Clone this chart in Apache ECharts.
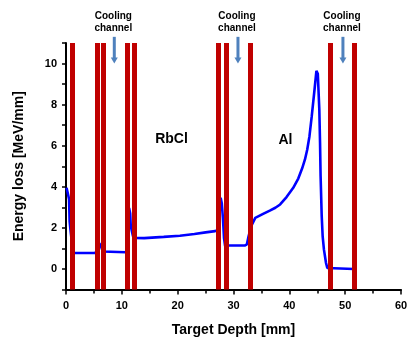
<!DOCTYPE html>
<html>
<head>
<meta charset="utf-8">
<script src="https://cdn.jsdelivr.net/npm/echarts@6/dist/echarts.min.js"></script>
<style>
html,body{margin:0;padding:0;background:#fff;}
#chart{width:407px;height:338px;}
</style>
</head>
<body>
<div id="chart"></div>
<script>
// Energy loss curve: [depth mm, MeV/mm]
const depth = [0.1,0.4,0.55,0.65,0.83,1.1,1.43,5.3,5.6,5.8,6.0,6.2,6.4,6.6,6.8,10.7,10.95,11.15,11.3,11.5,11.6,11.75,12.0,12.45,14,17.5,20.4,23,25,26.7,27.2,27.5,27.7,27.9,28.1,28.3,28.5,29.0,32.0,32.4,32.7,33.0,33.3,33.9,35.3,36.5,37.5,38.35,39.5,40.7,41.6,42.3,42.8,43.2,43.6,44.0,44.5,44.85,45.1,45.37,45.5,45.6,45.8,45.97,46.2,46.57,46.8,47.0,51.5];
const energy = [3.95,4.03,3.4,2.32,1.83,1.2,0.78,0.78,1.0,1.3,1.35,1.15,1.1,0.85,0.81,0.81,1.0,2.5,2.97,2.7,2.1,1.9,1.6,1.51,1.5,1.56,1.62,1.7,1.78,1.84,1.9,2.7,3.46,3.2,2.5,1.5,1.12,1.14,1.14,1.2,1.59,1.9,2.16,2.49,2.68,2.84,2.98,3.14,3.5,3.95,4.4,4.9,5.33,5.8,6.45,7.4,8.7,9.64,9.5,7.77,6.15,4.52,2.57,1.59,0.94,0.29,0.05,0.0,0.0];
// Target wall positions [mm]
const walls = [1.18,5.55,6.6,10.97,12.2,27.2,28.7,33.0,47.4,51.6];
// Cooling channel arrows: x position [mm]
const coolingX = [8.65,30.8,49.6];
const arrowTop = 11.3, arrowTip = 10.0;
// Material labels
const materials = [{name:'RbCl', x:18.9, y:6.3},{name:'Al', x:39.3, y:6.25}];
const xTicks = {min:0,max:60,step:10};
const yTicks = {min:-1,max:11,step:1};

const FONT = 'Liberation Sans, Arial, sans-serif';
const chart = echarts.init(document.getElementById('chart'), null, {renderer:'canvas'});
const curve = depth.map((d,i)=>[d,energy[i]]);

chart.setOption({
  animation:false,
  backgroundColor:'#fff',
  grid:{left:66,right:6,top:43,bottom:48.5,containLabel:false,outerBoundsMode:'none'},
  xAxis:{
    type:'value',min:xTicks.min,max:xTicks.max,interval:xTicks.step,
    name:'Target Depth [mm]',nameLocation:'middle',nameGap:34,
    nameTextStyle:{fontFamily:FONT,fontWeight:'bold',fontSize:14,color:'#000'},
    axisLine:{show:true,onZero:false,lineStyle:{color:'#000',width:2}},
    axisTick:{show:true,inside:false,length:5,lineStyle:{color:'#000',width:1.5}},
    minorTick:{show:true,splitNumber:2,length:4,lineStyle:{color:'#000',width:1.5}},
    axisLabel:{fontFamily:FONT,fontWeight:'bold',fontSize:11,color:'#000',margin:11},
    splitLine:{show:false}
  },
  yAxis:{
    type:'value',min:yTicks.min,max:yTicks.max,interval:yTicks.step,
    name:'Energy loss [MeV/mm]',nameLocation:'middle',nameGap:40,
    nameTextStyle:{fontFamily:FONT,fontWeight:'bold',fontSize:14,color:'#000'},
    axisLine:{show:true,onZero:false,lineStyle:{color:'#000',width:2}},
    axisTick:{show:true,inside:false,length:4,lineStyle:{color:'#000',width:1.5}},
    axisLabel:{fontFamily:FONT,fontWeight:'bold',fontSize:11,color:'#000',margin:9,
      formatter:v=> (Math.round(v)%2===0 ? String(v) : '')},
    splitLine:{show:false}
  },
  series:[
    {
      type:'line',name:'energy',data:curve,showSymbol:false,symbol:'none',
      lineStyle:{color:'#0000ff',width:2.6},z:2
    },
    {
      type:'line',name:'walls',data:[],z:3,
      markLine:{
        silent:true,symbol:['none','none'],animation:false,
        label:{show:false},
        lineStyle:{color:'#c00000',width:5,type:'solid'},
        emphasis:{disabled:true},
        data:walls.map(w=>({xAxis:w}))
      }
    }
  ]
});

// annotations positioned through the axes
const g = [];
coolingX.forEach(cx=>{
  const top = chart.convertToPixel({xAxisIndex:0,yAxisIndex:0},[cx,arrowTop]);
  const tip = chart.convertToPixel({xAxisIndex:0,yAxisIndex:0},[cx,arrowTip]);
  g.push({type:'line',shape:{x1:top[0],y1:top[1],x2:tip[0],y2:tip[1]-5},
    style:{stroke:'#4f81bd',lineWidth:3},z:10});
  g.push({type:'polygon',shape:{points:[[tip[0]-3.5,tip[1]-6],[tip[0]+3.5,tip[1]-6],[tip[0],tip[1]]]},
    style:{fill:'#4f81bd'},z:10});
  g.push({type:'text',x:top[0]-1,y:top[1]-27,
    style:{text:'Cooling\nchannel',font:'bold 10px '+FONT,fill:'#000',align:'center',verticalAlign:'top',lineHeight:12},z:10});
});
materials.forEach(m=>{
  const p = chart.convertToPixel({xAxisIndex:0,yAxisIndex:0},[m.x,m.y]);
  g.push({type:'text',x:p[0],y:p[1],
    style:{text:m.name,font:'bold 14px '+FONT,fill:'#000',align:'center',verticalAlign:'middle'},z:10});
});
chart.setOption({graphic:g});
</script>
</body>
</html>
